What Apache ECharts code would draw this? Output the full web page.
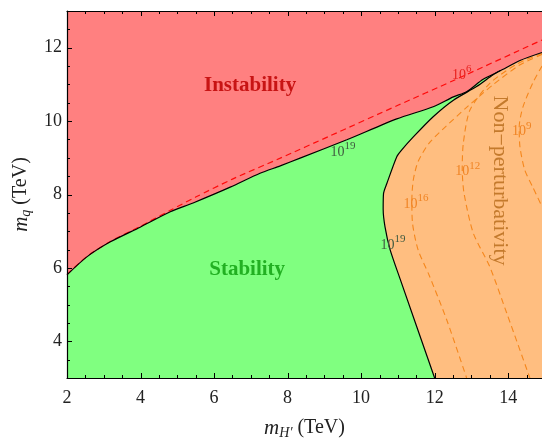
<!DOCTYPE html>
<html>
<head>
<meta charset="utf-8">
<script src="https://cdn.jsdelivr.net/npm/echarts@6/dist/echarts.min.js"></script>
<style>
  html, body { margin: 0; padding: 0; background: #fff; }
  #chart { width: 542px; height: 438px; }
</style>
</head>
<body>
<div id="chart"></div>
<script>
// axis ranges (TeV)
var xMin = 2, xMax = 14.92, yMin = 3, yMax = 13;

var xTicks = [2, 4, 6, 8, 10, 12, 14];
var xMinorTicks = [2.5, 3, 3.5, 4.5, 5, 5.5, 6.5, 7, 7.5, 8.5, 9, 9.5, 10.5, 11, 11.5, 12.5, 13, 13.5, 14.5];
var yTicks = [4, 6, 8, 10, 12];
var yMinorTicks = [3.5, 4.5, 5, 5.5, 6.5, 7, 7.5, 8.5, 9, 9.5, 10.5, 11, 11.5, 12.5];

// boundary between instability and the rest (m_H', m_q)
var stabilityEdge = [[2, 5.81], [2.54, 6.30], [3.18, 6.71], [3.99, 7.11], [4.81, 7.53], [5.43, 7.77],
  [6.44, 8.20], [7.25, 8.58], [7.80, 8.78], [8.34, 8.99], [9.61, 9.49], [10.97, 10.06], [11.96, 10.39],
  [12.51, 10.66], [12.87, 10.80], [13.32, 11.14], [13.78, 11.37], [14.32, 11.65], [14.92, 11.87]];

// boundary between stability and non-perturbativity, bottom to top
var perturbEdge = [[12.0, 3.0], [11.06, 5.70], [10.79, 6.49], [10.65, 7.12], [10.60, 7.60], [10.61, 8.03],
  [10.70, 8.30], [10.97, 9.03], [11.10, 9.21], [11.42, 9.57], [11.96, 10.12], [12.51, 10.57],
  [13.14, 10.94], [13.59, 11.26], [13.78, 11.37]];

// scale contours
var contour6 = [[2, 5.82], [2.54, 6.31], [3.18, 6.72], [3.99, 7.13], [4.81, 7.57], [5.5, 7.93], [6.5, 8.42],
  [7.8, 8.99], [9.16, 9.6], [11.0, 10.43], [12.5, 11.1], [14.92, 12.21]];
var contour9 = [[14.92, 11.5], [14.67, 11.04], [14.40, 10.38], [14.30, 9.84], [14.32, 9.30], [14.45, 8.67],
  [14.67, 8.20], [14.92, 7.67]];
var contour12 = [[14.92, 11.85], [14.23, 11.55], [13.5, 11.03], [12.96, 10.3], [12.78, 9.4], [12.75, 8.7],
  [12.8, 8.03], [13.05, 6.95], [13.5, 6.03], [13.96, 4.77], [14.59, 3.0]];
var contour16 = [[14.92, 11.82], [14.3, 11.52], [13.6, 11.0], [12.9, 10.4], [12.3, 9.85], [11.85, 9.4],
  [11.55, 8.9], [11.42, 8.4], [11.38, 7.85], [11.40, 7.2], [11.55, 6.49], [11.85, 5.8], [12.33, 4.58],
  [12.87, 3.0]];

// contour labels: exponent of 10 and where it sits
var contourExp = [6, 9, 12, 16, 19, 19];
var contourAt = [[12.74, 11.31], [14.37, 9.78], [12.90, 8.69], [11.49, 7.80], [9.51, 9.21], [10.87, 6.68]];
var contourColor = ['#e8201e', '#f08424', '#f08424', '#f08424', '#3f5a3f', '#3f5a3f'];

var regionNames = ['Instability', 'Stability', 'Non\u2212perturbativity'];
var regionAt = [[6.98, 10.96], [6.90, 5.96], [13.78, 8.38]];

var serif = 'Liberation Serif';

// polygons built from the edges
var redPoly = stabilityEdge.concat([[xMax, yMax], [xMin, yMax]]);
var orangePoly = stabilityEdge.concat([[xMax, yMin], [xMin, yMin]]);
var greenPoly = stabilityEdge.filter(function (p) { return p[0] < 13.78; })
  .concat(perturbEdge.slice().reverse()).concat([[xMin, yMin]]);

function polygon(points, color) {
  return {
    type: 'custom',
    silent: true,
    z: 1,
    data: points,
    renderItem: function (params, api) {
      if (params.dataIndex !== 0) return null;
      return {
        type: 'polygon',
        shape: { points: points.map(function (p) { return api.coord(p); }) },
        style: { fill: color, stroke: null }
      };
    }
  };
}

function curve(points, color, width, dashed, z) {
  return {
    type: 'line',
    data: points,
    showSymbol: false,
    smooth: 0.25,
    silent: true,
    z: z,
    lineStyle: { color: color, width: width, type: dashed ? [6, 4] : 'solid' }
  };
}

// inward frame ticks, drawn through the axis scales
var tickSeries = {
  type: 'custom',
  silent: true,
  z: 8,
  data: [[xMin, yMin]],
  renderItem: function (params, api) {
    var lines = [];
    function add(a, b) {
      lines.push({ type: 'line', shape: { x1: a[0], y1: a[1], x2: b[0], y2: b[1] }, style: { stroke: '#000', lineWidth: 1 } });
    }
    function xTick(v, len) {
      var b = api.coord([v, yMin]), t = api.coord([v, yMax]);
      var px = Math.round(b[0]) + 0.5;
      add([px, b[1]], [px, b[1] - len]);
      add([px, t[1]], [px, t[1] + len]);
    }
    function yTick(v, len) {
      var l = api.coord([xMin, v]);
      var py = Math.round(l[1]) + 0.5;
      add([l[0], py], [l[0] + len, py]);
    }
    xTicks.forEach(function (v) { xTick(v, 5); });
    xMinorTicks.forEach(function (v) { xTick(v, 3); });
    yTicks.forEach(function (v) { yTick(v, 5); });
    yMinorTicks.forEach(function (v) { yTick(v, 3); });
    return { type: 'group', children: lines };
  }
};

var chart = echarts.init(document.getElementById('chart'));

var nameRich = {
  i: { fontFamily: serif, fontStyle: 'italic', fontSize: 21, color: '#222', verticalAlign: 'middle', lineHeight: 24 },
  sub: { fontFamily: serif, fontStyle: 'italic', fontSize: 14, color: '#222', verticalAlign: 'bottom', lineHeight: 24 }
};

var series = [
  polygon(orangePoly, '#ffbe80'),
  polygon(greenPoly, '#80ff80'),
  polygon(redPoly, '#ff8080'),
  curve(contour6, '#ff0a0a', 1.2, true, 3),
  curve(contour9, '#f5871c', 1.1, true, 3),
  curve(contour12, '#f5871c', 1.1, true, 3),
  curve(contour16, '#f5871c', 1.1, true, 3),
  curve(stabilityEdge, '#000', 1.2, false, 4),
  curve(perturbEdge, '#000', 1.2, false, 4),
  {
    type: 'custom',
    silent: true,
    z: 5,
    data: contourAt,
    renderItem: function (params, api) {
      var i = params.dataIndex;
      var p = api.coord(contourAt[i]);
      var c = contourColor[i];
      return {
        type: 'text',
        x: p[0], y: p[1],
        style: {
          text: '{b|10}{s|' + contourExp[i] + '}',
          align: 'center', verticalAlign: 'middle',
          rich: {
            b: { fontFamily: serif, fontSize: 14, fill: c, verticalAlign: 'bottom', lineHeight: 18 },
            s: { fontFamily: serif, fontSize: 11, fill: c, verticalAlign: 'top', lineHeight: 18 }
          }
        }
      };
    }
  },
  {
    type: 'custom',
    silent: true,
    z: 5,
    data: regionAt,
    renderItem: function (params, api) {
      var i = params.dataIndex;
      var p = api.coord(regionAt[i]);
      var colors = ['#c81414', '#22b022', '#c47a2c'];
      return {
        type: 'text',
        x: p[0], y: p[1],
        rotation: i === 2 ? -Math.PI / 2 : 0,
        style: {
          text: regionNames[i],
          fontFamily: serif,
          fontSize: i === 2 ? 22 : 21,
          fontWeight: i === 2 ? 'normal' : 'bold',
          fill: colors[i],
          align: 'center', verticalAlign: 'middle'
        }
      };
    }
  },
  tickSeries
];

chart.setOption({
  animation: false,
  grid: { left: 67, right: 0, top: 11, bottom: 60, containLabel: false, outerBoundsMode: 'none' },
  xAxis: [
    {
      type: 'value', position: 'bottom', min: xMin, max: xMax, interval: 2,
      zlevel: 1,
      splitLine: { show: false },
      axisLine: { show: true, lineStyle: { color: '#000', width: 1.2 } },
      axisTick: { show: false },
      axisLabel: { customValues: xTicks, margin: 11, fontFamily: serif, fontSize: 18, color: '#222' },
      name: '{i|m}{sub|H\u2032} (TeV)',
      nameLocation: 'middle',
      nameGap: 38,
      nameTextStyle: { fontFamily: serif, fontSize: 20, color: '#222', rich: nameRich }
    },
    {
      type: 'value', position: 'top', min: xMin, max: xMax,
      zlevel: 1,
      splitLine: { show: false },
      axisLine: { show: true, lineStyle: { color: '#000', width: 1.2 } },
      axisTick: { show: false },
      axisLabel: { show: false }
    }
  ],
  yAxis: {
    type: 'value', position: 'left', min: yMin, max: yMax,
    zlevel: 1,
    splitLine: { show: false },
    axisLine: { show: true, lineStyle: { color: '#000', width: 1.2 } },
    axisTick: { show: false },
    axisLabel: { customValues: yTicks, margin: 5, fontFamily: serif, fontSize: 18, color: '#222' },
    name: '{i|m}{sub|q} (TeV)',
    nameLocation: 'middle',
    nameRotate: 90,
    nameGap: 30,
    nameTextStyle: { fontFamily: serif, fontSize: 20, color: '#222', rich: nameRich }
  },
  series: series
});
</script>
</body>
</html>
